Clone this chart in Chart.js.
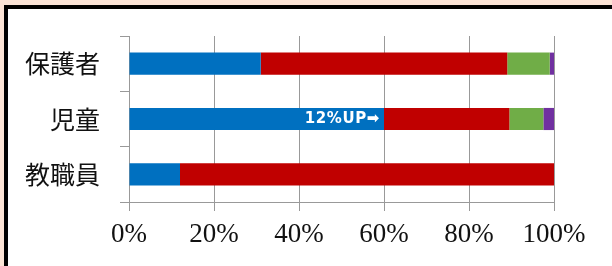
<!DOCTYPE html>
<html lang="ja">
<head>
<meta charset="utf-8">
<title>回答割合</title>
<script src="https://cdn.jsdelivr.net/npm/chart.js@4/dist/chart.umd.min.js"></script>
<style>
  html, body { margin: 0; padding: 0; }
  body { width: 612px; height: 266px; background: #fce4d6; position: relative; overflow: hidden; }
  .frame {
    position: absolute; left: 4px; top: 5px; width: 620px; height: 280px;
    background: #fff; border-left: 4px solid #000; border-top: 4px solid #000;
  }
  #chart { position: absolute; left: 0; top: 0; }
</style>
</head>
<body>
<div class="frame"></div>
<canvas id="chart" width="612" height="266"></canvas>
<script>
// ---- data ----
const GROUPS = ['保護者', '児童', '教職員'];
const SERIES_A = [31, 60, 12];     // blue
const SERIES_B = [58, 29.5, 88];   // red
const SERIES_C = [10, 8, 0];       // green
const SERIES_D = [1, 2.5, 0];      // purple
const X_TICKS = [0, 20, 40, 60, 80, 100];
const NOTE_TEXT = '12%UP➡';
const NOTE_ROW = 1;

const COLORS = ['#0070c0', '#c00000', '#70ad47', '#7030a0'];

// white note drawn at the end of the blue bar for 児童
const notePlugin = {
    id: 'note',
    afterDatasetsDraw(chart) {
        const bar = chart.getDatasetMeta(0).data[NOTE_ROW];
        if (!bar) return;
        const c = chart.ctx;
        c.save();
        c.fillStyle = '#ffffff';
        c.font = "bold 15px 'DejaVu Sans', sans-serif";
        c.letterSpacing = '0.6px';
        c.textAlign = 'right';
        c.textBaseline = 'middle';
        c.fillText(NOTE_TEXT, bar.x - 4, bar.y);
        c.restore();
    }
};

new Chart(document.getElementById('chart'), {
    type: 'bar',
    data: {
        labels: GROUPS,
        datasets: [SERIES_A, SERIES_B, SERIES_C, SERIES_D].map((d, i) => ({
            data: d,
            backgroundColor: COLORS[i],
            borderWidth: 0,
            categoryPercentage: 1,
            barPercentage: 0.4,
        }))
    },
    options: {
        indexAxis: 'y',
        responsive: false,
        animation: false,
        layout: { padding: { left: 0, top: 36, right: 58, bottom: 0 } },
        plugins: {
            legend: { display: false },
            tooltip: { enabled: false },
        },
        scales: {
            x: {
                stacked: true,
                min: 0,
                max: 100,
                afterBuildTicks: (s) => { s.ticks = X_TICKS.map(v => ({ value: v })); },
                afterFit: (s) => { s.height = 64; },
                ticks: {
                    callback: (v) => v + '%',
                    color: '#111',
                    padding: 8,
                    font: { family: "'Liberation Serif', serif", size: 27 },
                },
                grid: { color: '#999999', lineWidth: 1, tickLength: 9 },
                border: { color: '#999999', width: 1 },
            },
            y: {
                stacked: true,
                afterFit: (s) => { s.width = 129; },
                ticks: {
                    color: '#111',
                    padding: 20,
                    font: { family: "'Noto Sans CJK JP', sans-serif", size: 25 },
                },
                grid: { offset: true, drawOnChartArea: false, color: '#999999', tickLength: 9 },
                border: { color: '#999999', width: 1 },
            }
        }
    },
    plugins: [notePlugin]
});
</script>
</body>
</html>
